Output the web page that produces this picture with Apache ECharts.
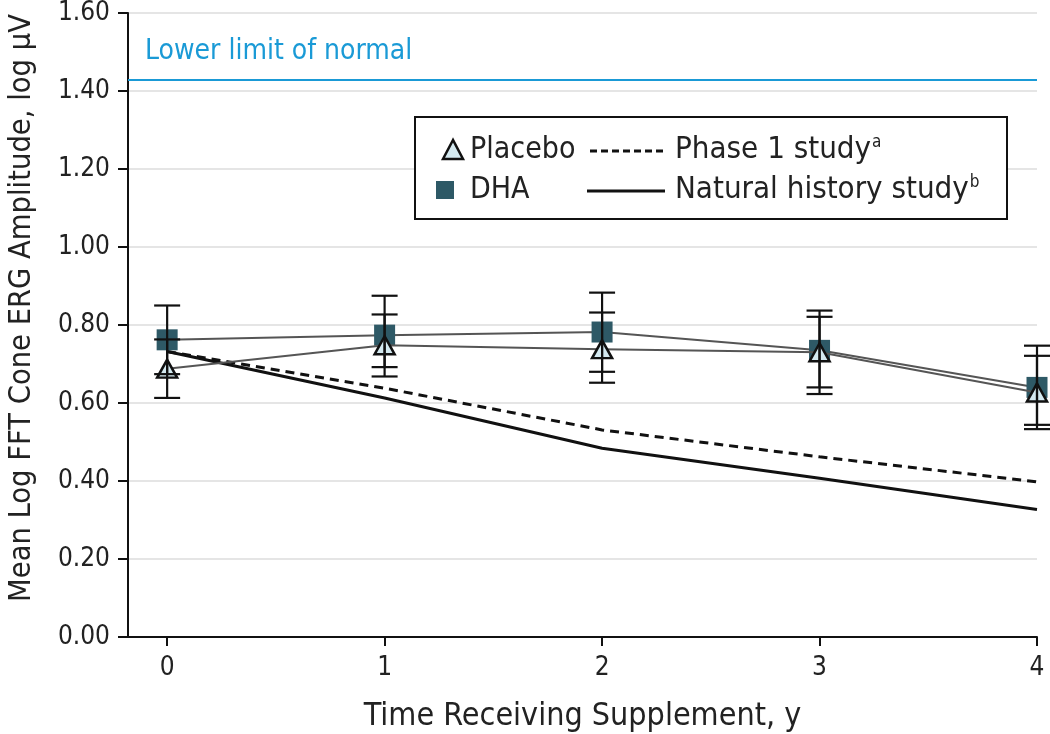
<!DOCTYPE html>
<html><head><meta charset="utf-8">
<script src="https://cdn.jsdelivr.net/npm/echarts@6/dist/echarts.min.js"></script>
<style>html,body{margin:0;padding:0;background:#fff}#c{width:1050px;height:734px}</style>
</head><body><div id="c"></div>
<script>
const years = [0, 1, 2, 3, 4];
const xTicks = [0, 1, 2, 3, 4];
const yTicks = [0, 0.2, 0.4, 0.6, 0.8, 1.0, 1.2, 1.4, 1.6];
const placeboMean = [0.688, 0.748, 0.738, 0.730, 0.627];
const placeboLow  = [0.613, 0.692, 0.652, 0.640, 0.544];
const placeboHigh = [0.763, 0.827, 0.832, 0.821, 0.721];
const dhaMean = [0.762, 0.774, 0.782, 0.735, 0.640];
const dhaLow  = [0.674, 0.668, 0.680, 0.623, 0.533];
const dhaHigh = [0.850, 0.875, 0.883, 0.837, 0.747];
const phase1 = [0.732, 0.638, 0.531, 0.462, 0.398];
const naturalHistory = [0.732, 0.613, 0.484, 0.407, 0.327];
const lowerLimitNormal = 1.433;
const yAxisTitle = 'Mean Log FFT Cone ERG Amplitude, log µV';

const FONT = '"DejaVu Sans Condensed","Liberation Sans Narrow",sans-serif';
const chart = echarts.init(document.getElementById('c'));

function pairs(xs, ys) { return xs.map((x, i) => [x, ys[i]]); }
function errData(low, high) { return years.map((x, i) => [x, low[i], high[i]]); }

function errorRender(params, api) {
  const x = api.value(0);
  const lo = api.coord([x, api.value(1)]);
  const hi = api.coord([x, api.value(2)]);
  const w = 13;
  const st = { stroke: '#111', lineWidth: 2.2 };
  return {
    type: 'group',
    children: [
      { type: 'line', shape: { x1: lo[0], y1: lo[1], x2: hi[0], y2: hi[1] }, style: st },
      { type: 'line', shape: { x1: lo[0] - w, y1: lo[1], x2: lo[0] + w, y2: lo[1] }, style: st },
      { type: 'line', shape: { x1: hi[0] - w, y1: hi[1], x2: hi[0] + w, y2: hi[1] }, style: st }
    ]
  };
}

const sup = { s: { fontSize: 17, fontFamily: FONT, verticalAlign: 'top', padding: [0, 0, 14, 1], color: '#222' } };

const option = {
  animation: false,
  backgroundColor: '#fff',
  textStyle: { fontFamily: FONT },
  grid: { left: 128, right: 13, top: 13, bottom: 97, containLabel: false, outerBoundsMode: 'none' },
  xAxis: {
    type: 'value', min: -0.18, max: 4,
    name: 'Time Receiving Supplement, y', nameLocation: 'middle', nameGap: 64,
    nameTextStyle: { fontFamily: FONT, fontSize: 32, color: '#222' },
    axisLine: { show: true, onZero: false, lineStyle: { color: '#111', width: 2 } },
    axisTick: { show: true, length: 9, lineStyle: { color: '#111', width: 2 }, customValues: xTicks },
    axisLabel: { fontFamily: FONT, fontSize: 26, color: '#222', margin: 18, customValues: xTicks },
    splitLine: { show: false }
  },
  yAxis: {
    type: 'value', min: 0, max: 1.6, interval: 0.2,
    axisLine: { show: true, onZero: false, lineStyle: { color: '#111', width: 2 } },
    axisTick: { show: true, length: 10, lineStyle: { color: '#111', width: 2 } },
    axisLabel: { fontFamily: FONT, fontSize: 26, color: '#222', margin: 18,
      formatter: v => v.toFixed(2) },
    splitLine: { show: true, lineStyle: { color: '#dcdcdc', width: 1.5 } }
  },
  series: [
    {
      name: 'Lower limit', type: 'line', data: [], silent: true,
      markLine: {
        silent: true, symbol: 'none', label: { show: false },
        lineStyle: { color: '#1a9ad6', width: 2, type: 'solid' },
        data: [{ yAxis: lowerLimitNormal }]
      }
    },
    {
      name: 'Phase 1 study', type: 'line', data: pairs(years, phase1), symbol: 'none',
      lineStyle: { color: '#111', width: 3, type: [9, 6] }, z: 3
    },
    {
      name: 'Natural history study', type: 'line', data: pairs(years, naturalHistory), symbol: 'none',
      lineStyle: { color: '#111', width: 3 }, z: 3
    },
    {
      name: 'DHA', type: 'line', data: pairs(years, dhaMean),
      symbol: 'rect', symbolSize: 21,
      itemStyle: { color: '#2e5966', borderColor: '#2e5966', borderWidth: 0 },
      lineStyle: { color: '#555', width: 2 }, z: 4
    },
    {
      name: 'Placebo', type: 'line', data: pairs(years, placeboMean),
      symbol: 'triangle', symbolSize: [20, 18],
      itemStyle: { color: '#d4e9f0', borderColor: '#111', borderWidth: 2.5 },
      lineStyle: { color: '#555', width: 2 }, z: 5
    },
    { name: 'DHA err', type: 'custom', renderItem: errorRender, data: errData(dhaLow, dhaHigh), z: 6, silent: true },
    { name: 'Placebo err', type: 'custom', renderItem: errorRender, data: errData(placeboLow, placeboHigh), z: 6, silent: true }
  ],
  graphic: [
    { type: 'text', x: 22, y: 308, rotation: Math.PI / 2,
      style: { text: yAxisTitle, font: '30.5px ' + FONT, fill: '#222', align: 'center', verticalAlign: 'middle' } },
    { type: 'text', x: 145, y: 52, style: { text: 'Lower limit of normal', font: '28px ' + FONT, fill: '#1a9ad6', verticalAlign: 'middle' } },
    { type: 'rect', shape: { x: 415, y: 117, width: 592, height: 102 }, style: { fill: '#fff', stroke: '#111', lineWidth: 2 }, z: 10 },
    { type: 'polygon', shape: { points: [[453, 140], [443, 159], [463, 159]] }, style: { fill: '#d4e9f0', stroke: '#111', lineWidth: 2.5 }, z: 11 },
    { type: 'text', x: 470, y: 150, style: { text: 'Placebo', font: '30px ' + FONT, fill: '#222', verticalAlign: 'middle' }, z: 11 },
    { type: 'rect', shape: { x: 436, y: 181, width: 18, height: 18 }, style: { fill: '#2e5966' }, z: 11 },
    { type: 'text', x: 470, y: 190, style: { text: 'DHA', font: '30px ' + FONT, fill: '#222', verticalAlign: 'middle' }, z: 11 },
    { type: 'line', shape: { x1: 590, y1: 151, x2: 665, y2: 151 }, style: { stroke: '#111', lineWidth: 3, lineDash: [7, 4] }, z: 11 },
    { type: 'line', shape: { x1: 587, y1: 191, x2: 665, y2: 191 }, style: { stroke: '#111', lineWidth: 3 }, z: 11 },
    { type: 'text', x: 675, y: 150, style: { text: 'Phase 1 study{s|a}', font: '31px ' + FONT, fill: '#222', verticalAlign: 'middle', rich: sup }, z: 11 },
    { type: 'text', x: 675, y: 190, style: { text: 'Natural history study{s|b}', font: '31px ' + FONT, fill: '#222', verticalAlign: 'middle', rich: sup }, z: 11 }
  ]
};
chart.setOption(option);
</script>
</body></html>
